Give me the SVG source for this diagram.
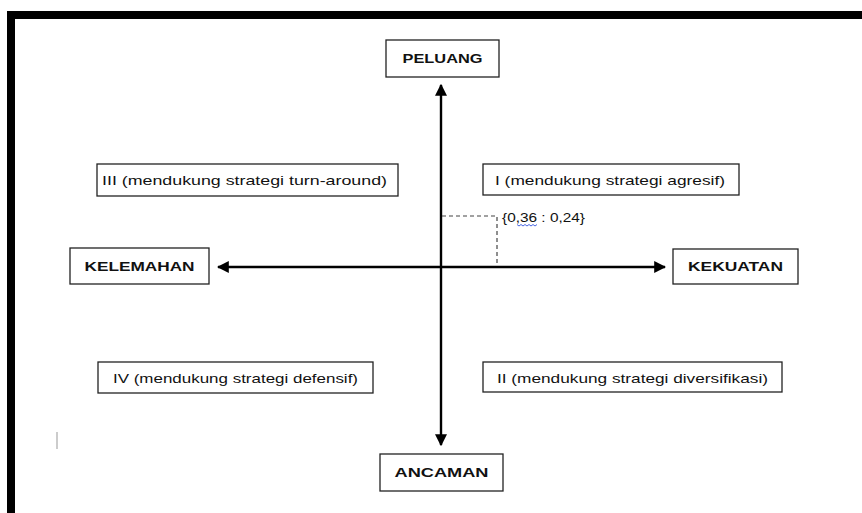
<svg xmlns="http://www.w3.org/2000/svg" width="862" height="513" viewBox="0 0 862 513">
<style>
.box{fill:#fff;stroke:#222;stroke-width:1.3}
.lbl{font-family:"Liberation Sans",Arial,sans-serif;font-weight:bold;font-size:13.5px;fill:#111;text-anchor:middle}
.q{font-family:"Liberation Sans",Arial,sans-serif;font-size:13.5px;fill:#111}
.axis{stroke:#000;stroke-width:2.4;fill:none}
.dash{stroke:#444;stroke-width:1.2;stroke-dasharray:4 3;fill:none}
</style>
<defs>
<marker id="ah" viewBox="0 0 10 10" refX="9" refY="5" markerWidth="5" markerHeight="5" orient="auto" markerUnits="strokeWidth">
<path d="M0,0 L10,5 L0,10 Z" fill="#000"/>
</marker>
</defs>
<rect x="0" y="0" width="862" height="513" fill="#fff"/>
<path d="M11,520 V15 H870" fill="none" stroke="#000" stroke-width="8"/>
<g id="connectors">
<line class="axis" x1="441" y1="267" x2="441" y2="85" marker-end="url(#ah)"/>
<line class="axis" x1="441" y1="267" x2="441" y2="445" marker-end="url(#ah)"/>
<line class="axis" x1="441" y1="267" x2="218" y2="267" marker-end="url(#ah)"/>
<line class="axis" x1="441" y1="267" x2="665" y2="267" marker-end="url(#ah)"/>
<path class="dash" d="M442,216 H497 V266"/>
</g>
<g id="peluang"><rect class="box" x="386" y="40" width="113" height="37"/><text class="lbl" x="442.5" y="63" textLength="80" lengthAdjust="spacingAndGlyphs">PELUANG</text></g>
<g id="ancaman"><rect class="box" x="380" y="454" width="123" height="37"/><text class="lbl" x="441.5" y="477" textLength="94" lengthAdjust="spacingAndGlyphs">ANCAMAN</text></g>
<g id="kelemahan"><rect class="box" x="70" y="248" width="139" height="36"/><text class="lbl" x="139.5" y="271" textLength="110" lengthAdjust="spacingAndGlyphs">KELEMAHAN</text></g>
<g id="kekuatan"><rect class="box" x="673" y="249" width="125" height="35"/><text class="lbl" x="735.5" y="271" textLength="95" lengthAdjust="spacingAndGlyphs">KEKUATAN</text></g>
<g id="q3"><rect class="box" x="97" y="164" width="301" height="32"/><text class="q" x="102" y="185" textLength="285" lengthAdjust="spacingAndGlyphs">III (mendukung strategi turn-around)</text></g>
<g id="q1"><rect class="box" x="483" y="164" width="256" height="31"/><text class="q" x="495" y="185" textLength="230" lengthAdjust="spacingAndGlyphs">I (mendukung strategi agresif)</text></g>
<g id="q4"><rect class="box" x="98" y="362" width="275" height="31"/><text class="q" x="113" y="383" textLength="245" lengthAdjust="spacingAndGlyphs">IV (mendukung strategi defensif)</text></g>
<g id="q2"><rect class="box" x="483" y="362" width="299" height="30"/><text class="q" x="497" y="383" textLength="271" lengthAdjust="spacingAndGlyphs">II (mendukung strategi diversifikasi)</text></g>
<g id="point">
<text x="502" y="222" font-family="'Liberation Sans',Arial,sans-serif" font-size="12.5" fill="#111" textLength="83" lengthAdjust="spacingAndGlyphs">{0,36 : 0,24}</text>
<path d="M517,224.5 l2,1.5 l2,-1.5 l2,1.5 l2,-1.5 l2,1.5 l2,-1.5 l2,1.5 l2,-1.5 l2,1.5 l2,-1.5" fill="none" stroke="#3355dd" stroke-width="0.9"/>
</g>
<line x1="57" y1="432" x2="57" y2="449" stroke="#aaa" stroke-width="1.2"/>
</svg>
